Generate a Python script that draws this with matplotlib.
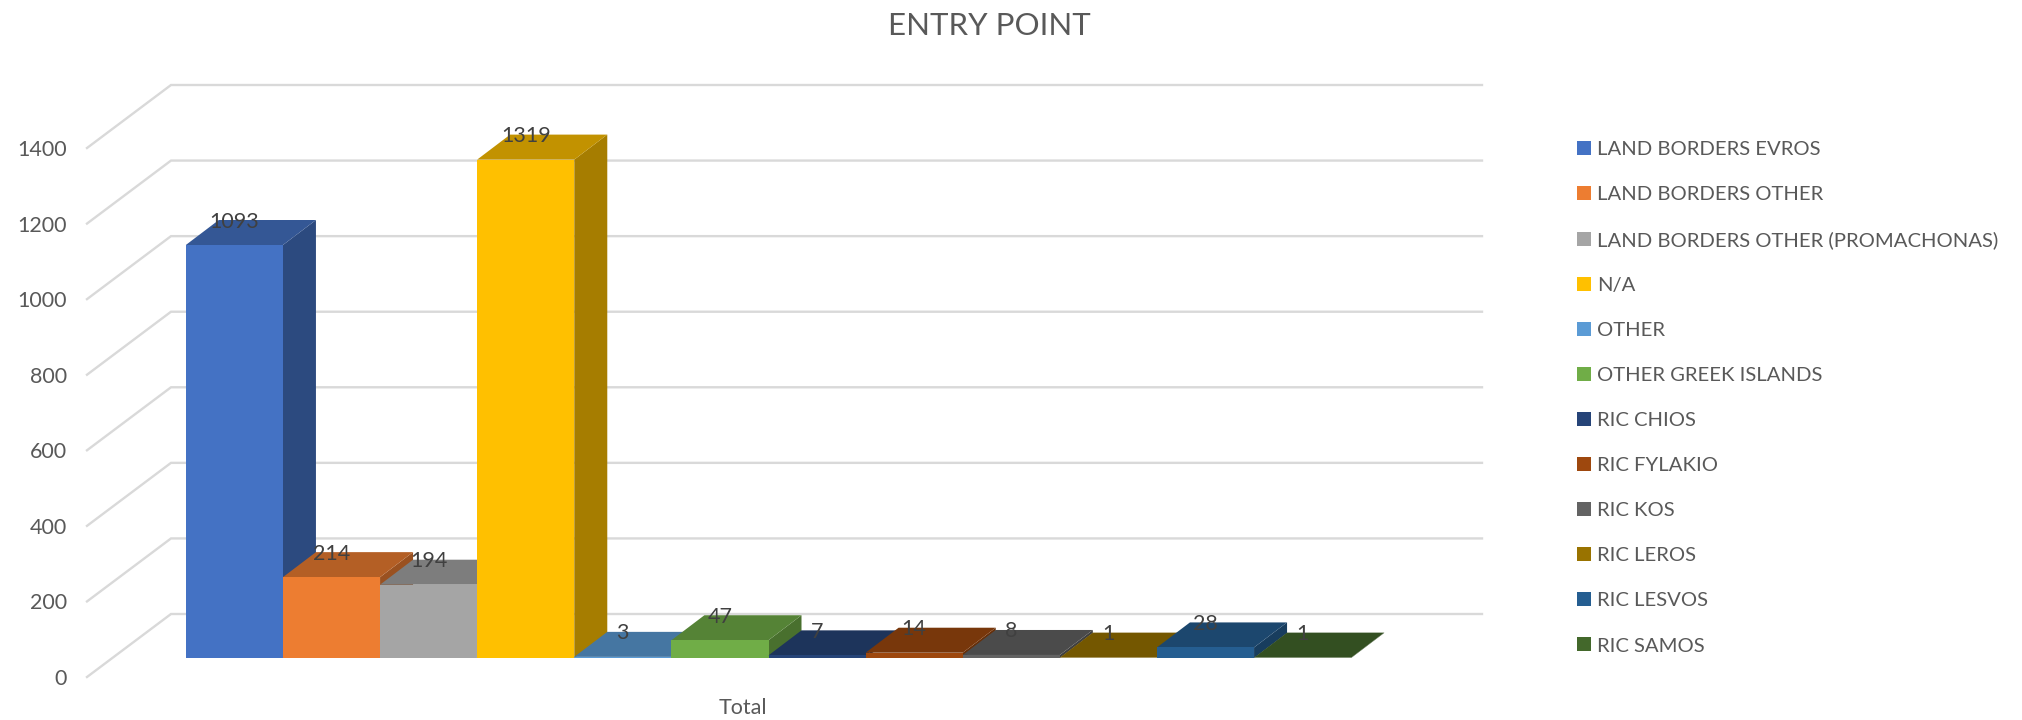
import matplotlib
matplotlib.use("Agg")
import matplotlib.pyplot as plt
from matplotlib.patches import Polygon
from matplotlib.colors import to_rgb

series = ["LAND BORDERS EVROS", "LAND BORDERS OTHER", "LAND BORDERS OTHER (PROMACHONAS)",
          "N/A", "OTHER", "OTHER GREEK ISLANDS", "RIC CHIOS", "RIC FYLAKIO",
          "RIC KOS", "RIC LEROS", "RIC LESVOS", "RIC SAMOS"]
values = [1093, 214, 194, 1319, 3, 47, 7, 14, 8, 1, 28, 1]
colors = ["#4472C4", "#ED7D31", "#A5A5A5", "#FFC000", "#5B9BD5", "#70AD47",
          "#264478", "#9E480E", "#636363", "#997300", "#255E91", "#43682B"]
category = ["Total"]
y_ticks = [0, 200, 400, 600, 800, 1000, 1200, 1400]
title = "ENTRY POINT"

plt.rcParams["font.family"] = ["Lato", "DejaVu Sans"]
W, H = 2022, 720
fig = plt.figure(figsize=(W / 100, H / 100), dpi=100, facecolor="white")
AX_L, AX_R, AX_B, AX_T = 87, 1398, 677, 148
ax = fig.add_axes([AX_L / W, (H - AX_B) / H, (AX_R - AX_L) / W, (AX_B - AX_T) / H])
ax.set_xlim(-0.5, 0.5)
ax.set_ylim(0, 1400)
for s in ax.spines.values():
    s.set_visible(False)

px_x = 1.0 / (AX_R - AX_L)            # one pixel in x data units
px_y = 1400.0 / (AX_B - AX_T)         # one pixel in y data units
WALL_X, WALL_Y = 84 * px_x, 63 * px_y  # wall depth
BAR_DX, BAR_DY = 33 * px_x, 25 * px_y  # bar depth
FRONT_X, FRONT_Y = 26 * px_x, 19 * px_y  # offset of bar fronts from wall front

# walls / gridlines
GRID = "#D9D9D9"
for v in y_ticks:
    ax.plot([-0.5, -0.5 + WALL_X, 0.5 + WALL_X], [v, v + WALL_Y, v + WALL_Y],
            color=GRID, lw=1.7, clip_on=False, zorder=1, solid_joinstyle="miter")


def shade(c, f):
    return tuple(x * f for x in to_rgb(c))


bar_w = 1 / 13.5
n = len(values)
handles = []
for i, (name, v, c) in enumerate(zip(series, values, colors)):
    left = (i - n / 2) * bar_w + FRONT_X
    z = 2 + i
    bc = ax.bar(left, v, width=bar_w, bottom=FRONT_Y, align="edge", color=c,
                label=name, clip_on=False, zorder=z + 0.3, linewidth=0)
    handles.append(bc)
    right = left + bar_w
    base, top = FRONT_Y, FRONT_Y + v
    ax.add_patch(Polygon([(right, base), (right + BAR_DX, base + BAR_DY),
                          (right + BAR_DX, top + BAR_DY), (right, top)],
                         closed=True, fc=shade(c, 0.65), ec="none", clip_on=False, zorder=z))
    ax.add_patch(Polygon([(left, top), (right, top), (right + BAR_DX, top + BAR_DY),
                          (left + BAR_DX, top + BAR_DY)],
                         closed=True, fc=shade(c, 0.76), ec="none", clip_on=False, zorder=z + 0.2))

# data labels above everything
for i, v in enumerate(values):
    left = (i - n / 2) * bar_w + FRONT_X
    ax.text(left + bar_w / 2, FRONT_Y + v + BAR_DY - 1.5 * px_y, str(v), ha="center", va="center",
            fontsize=15.5, color="#404040", clip_on=False, zorder=50)

ax.set_yticks(y_ticks)
ax.set_xticks([0])
ax.set_xticklabels(category)
ax.tick_params(axis="y", length=0, pad=14.4, labelsize=15.5, labelcolor="#595959")
ax.tick_params(axis="x", length=0, pad=15, labelsize=15.5, labelcolor="#595959")

fig.text(989 / W, 1 - 26 / H, title, ha="center", va="center", fontsize=22.5, color="#595959")

fig.legend(handles=handles, labels=series, loc="upper left",
           bbox_to_anchor=(1577 / W, 1 - 141 / H), bbox_transform=fig.transFigure,
           frameon=False, fontsize=14.6, labelcolor="#595959",
           handlelength=0.68, handleheight=0.68, handletextpad=0.30,
           labelspacing=1.38, borderpad=0, borderaxespad=0)

fig.savefig("out.png", dpi=100, facecolor="white")
